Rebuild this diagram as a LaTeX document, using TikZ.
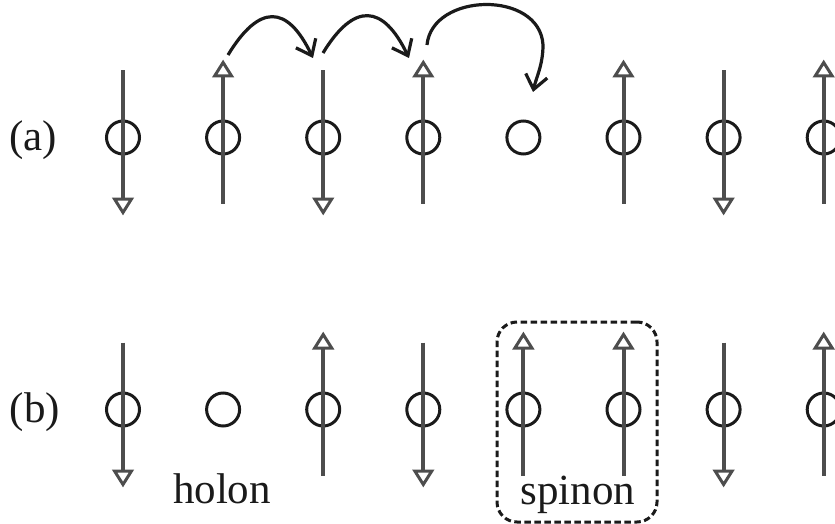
\documentclass[tikz,border=0pt]{standalone}
\usepackage{fontspec}
\setmainfont{Liberation Serif}
\usetikzlibrary{arrows.meta}
\definecolor{ink}{HTML}{1A1A1A}
\definecolor{spingray}{HTML}{4D4D4D}
% spin arrows on a lattice site: a shaft and an open triangular head
\newcommand\upspin[1]{%
  \draw[spinline] (#1.center) ++(0,66) -- ++(0,-127);
  \draw[spinhead] (#1.center) ++(-8.5,-61.5) -- ++(17,0) -- ++(-8.5,-13.5) -- cycle;}
\newcommand\downspin[1]{%
  \draw[spinline] (#1.center) ++(0,-67) -- ++(0,128);
  \draw[spinhead] (#1.center) ++(-8.5,61.5) -- ++(17,0) -- ++(-8.5,13.5) -- cycle;}
\begin{document}
\begin{tikzpicture}[x=1pt,y=-1pt,
  site/.style={circle, draw=ink, line width=3pt, minimum size=33pt, inner sep=0pt},
  spinline/.style={draw=spingray, line width=4pt},
  spinhead/.style={draw=spingray, fill=white, line width=3pt, line join=miter},
  hop/.style={draw=ink, line width=3.2pt,
    -{Straight Barb[length=14pt, width=22pt, line width=3.2pt]}},
  lbl/.style={font=\fontsize{43}{43}\selectfont, inner sep=0pt, text=ink},
  dashbox/.style={draw=ink, line width=3pt, rounded corners=20pt,
    dash pattern=on 6.5pt off 3.5pt},
]
\useasboundingbox (0,0) rectangle (835,524);
\begin{scope}
\clip (0,0) rectangle (835,524);

% row (a)
\node[lbl] (la) at (33,140) {(a)};
\foreach \i in {0,...,7} {
  \node[site] (a\i) at ({123+100.1*\i},137.5) {};
}
% row (b)
\node[lbl] (lb) at (35,412) {(b)};
\foreach \i in {0,...,7} {
  \node[site] (b\i) at ({123+100.1*\i},409.5) {};
}

% spins of row (a); site a4 is empty
\downspin{a0} \upspin{a1} \downspin{a2} \upspin{a3}
\upspin{a5} \downspin{a6} \upspin{a7}
% spins of row (b); site b1 is the holon
\downspin{b0} \upspin{b2} \downspin{b3}
\upspin{b4} \upspin{b5} \downspin{b6} \upspin{b7}

% hopping of the hole
\coordinate (h1s) at (228,55);
\coordinate (h1e) at (313,58);
\coordinate (h2s) at (323,53);
\coordinate (h2e) at (409,58);
\coordinate (h3s) at (427,45);
\coordinate (h3m) at (543,45);
\coordinate (h3e) at (533,92);
\draw[hop] (h1s) .. controls (259,4) and (287,4) .. (h1e);
\draw[hop] (h2s) .. controls (354,2) and (383,4) .. (h2e);
\draw[hop] (h3s) .. controls (432,-8) and (540,-10) .. (h3m)
  .. controls (543,65) and (536,78) .. (h3e);

% holon and spinon labels
\node[lbl, anchor=base] (holon) at (222,503) {holon};
\node[dashbox, minimum width=160pt, minimum height=200pt] (spinonbox) at (577,422) {};
\node[lbl, anchor=base] (spinon) at (578,504) {spinon};
\end{scope}
\end{tikzpicture}
\end{document}
